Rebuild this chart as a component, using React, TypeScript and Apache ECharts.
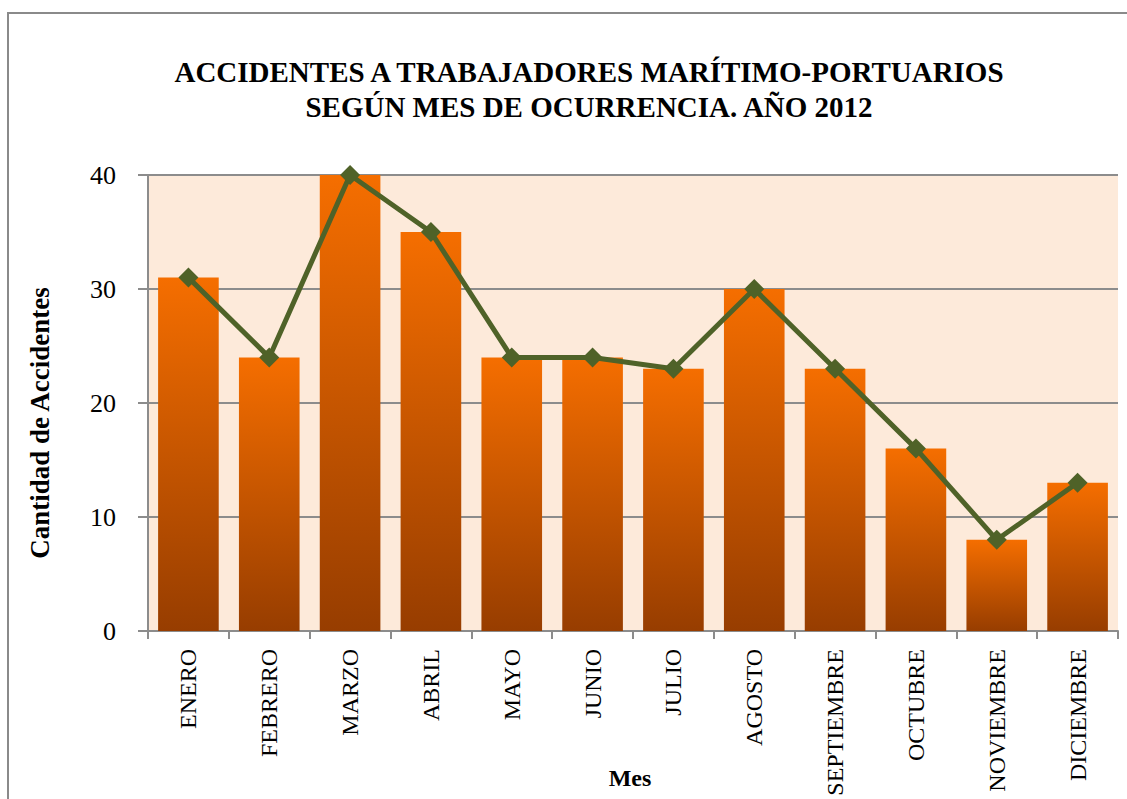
import React, { useEffect, useRef } from "react";
import * as echarts from "echarts";

const months = ["ENERO", "FEBRERO", "MARZO", "ABRIL", "MAYO", "JUNIO", "JULIO", "AGOSTO", "SEPTIEMBRE", "OCTUBRE", "NOVIEMBRE", "DICIEMBRE"];
const accidents = [31, 24, 40, 35, 24, 24, 23, 30, 23, 16, 8, 13];
const titleLines = ["ACCIDENTES A TRABAJADORES MARÍTIMO-PORTUARIOS", "SEGÚN MES DE OCURRENCIA. AÑO 2012"];
const yName = "Cantidad de Accidentes";
const xName = "Mes";

const SERIF = "'Liberation Serif', 'DejaVu Serif', serif";

export default function App() {
  const ref = useRef<HTMLDivElement>(null);
  useEffect(() => {
    const chart = echarts.init(ref.current!, null, { renderer: "svg" });
    chart.setOption({
      animation: false,
      backgroundColor: "#ffffff",
      graphic: [
        {
          type: "rect",
          shape: { x: 8, y: 13, width: 1300, height: 1000 },
          style: { fill: "none", stroke: "#8a8a8a", lineWidth: 2 },
          silent: true,
          z: -1,
        },
        {
          type: "text",
          x: 40,
          y: 423,
          rotation: Math.PI / 2,
          style: {
            text: yName,
            fontFamily: SERIF,
            fontWeight: "bold",
            fontSize: 27,
            fill: "#000",
            align: "center",
            verticalAlign: "middle",
          },
          silent: true,
        },
        {
          type: "text",
          x: 630,
          y: 778,
          style: {
            text: xName,
            fontFamily: SERIF,
            fontWeight: "bold",
            fontSize: 24,
            fill: "#000",
            align: "center",
            verticalAlign: "middle",
          },
          silent: true,
        },
      ],
      title: {
        text: titleLines.join("\n"),
        left: 584,
        textAlign: "center",
        top: 49,
        textStyle: {
          fontFamily: SERIF,
          fontWeight: "bold",
          fontSize: 29,
          lineHeight: 35,
          color: "#000",
        },
      },
      grid: {
        left: 148,
        top: 175,
        right: 9,
        bottom: 168,
        outerBoundsMode: "none",
        containLabel: false,
        backgroundColor: "#FDEADA",
        show: true,
        borderWidth: 0,
      },
      xAxis: {
        type: "category",
        data: months,
        axisLine: { lineStyle: { color: "#8c8c8c", width: 2 } },
        axisTick: { show: true, length: 8, lineStyle: { color: "#8c8c8c", width: 2 } },
        axisLabel: { rotate: 90, margin: 18, fontFamily: SERIF, fontSize: 24, color: "#000", interval: 0 },
      },
      yAxis: {
        type: "value",
        min: 0,
        max: 40,
        interval: 10,
        axisLine: { show: true, lineStyle: { color: "#8c8c8c", width: 2 } },
        axisTick: { show: true, length: 10, lineStyle: { color: "#8c8c8c", width: 2 } },
        splitLine: { show: true, lineStyle: { color: "#8c8c8c", width: 2 } },
        axisLabel: { margin: 32, fontFamily: SERIF, fontSize: 26, color: "#000" },
      },
      series: [
        {
          type: "bar",
          data: accidents,
          barCategoryGap: "25%",
          itemStyle: {
            color: new echarts.graphic.LinearGradient(0, 0, 0, 1, [
              { offset: 0, color: "#F56E00" },
              { offset: 1, color: "#973D00" },
            ]),
          },
          z: 2,
        },
        {
          type: "line",
          data: accidents,
          symbol: "diamond",
          symbolSize: 20,
          lineStyle: { color: "#4F6228", width: 5 },
          itemStyle: { color: "#4F6228" },
          z: 3,
        },
      ],
    });
    return () => chart.dispose();
  }, []);
  return <div ref={ref} style={{ position: "fixed", left: 0, top: 0, width: 1127, height: 799 }} />;
}
